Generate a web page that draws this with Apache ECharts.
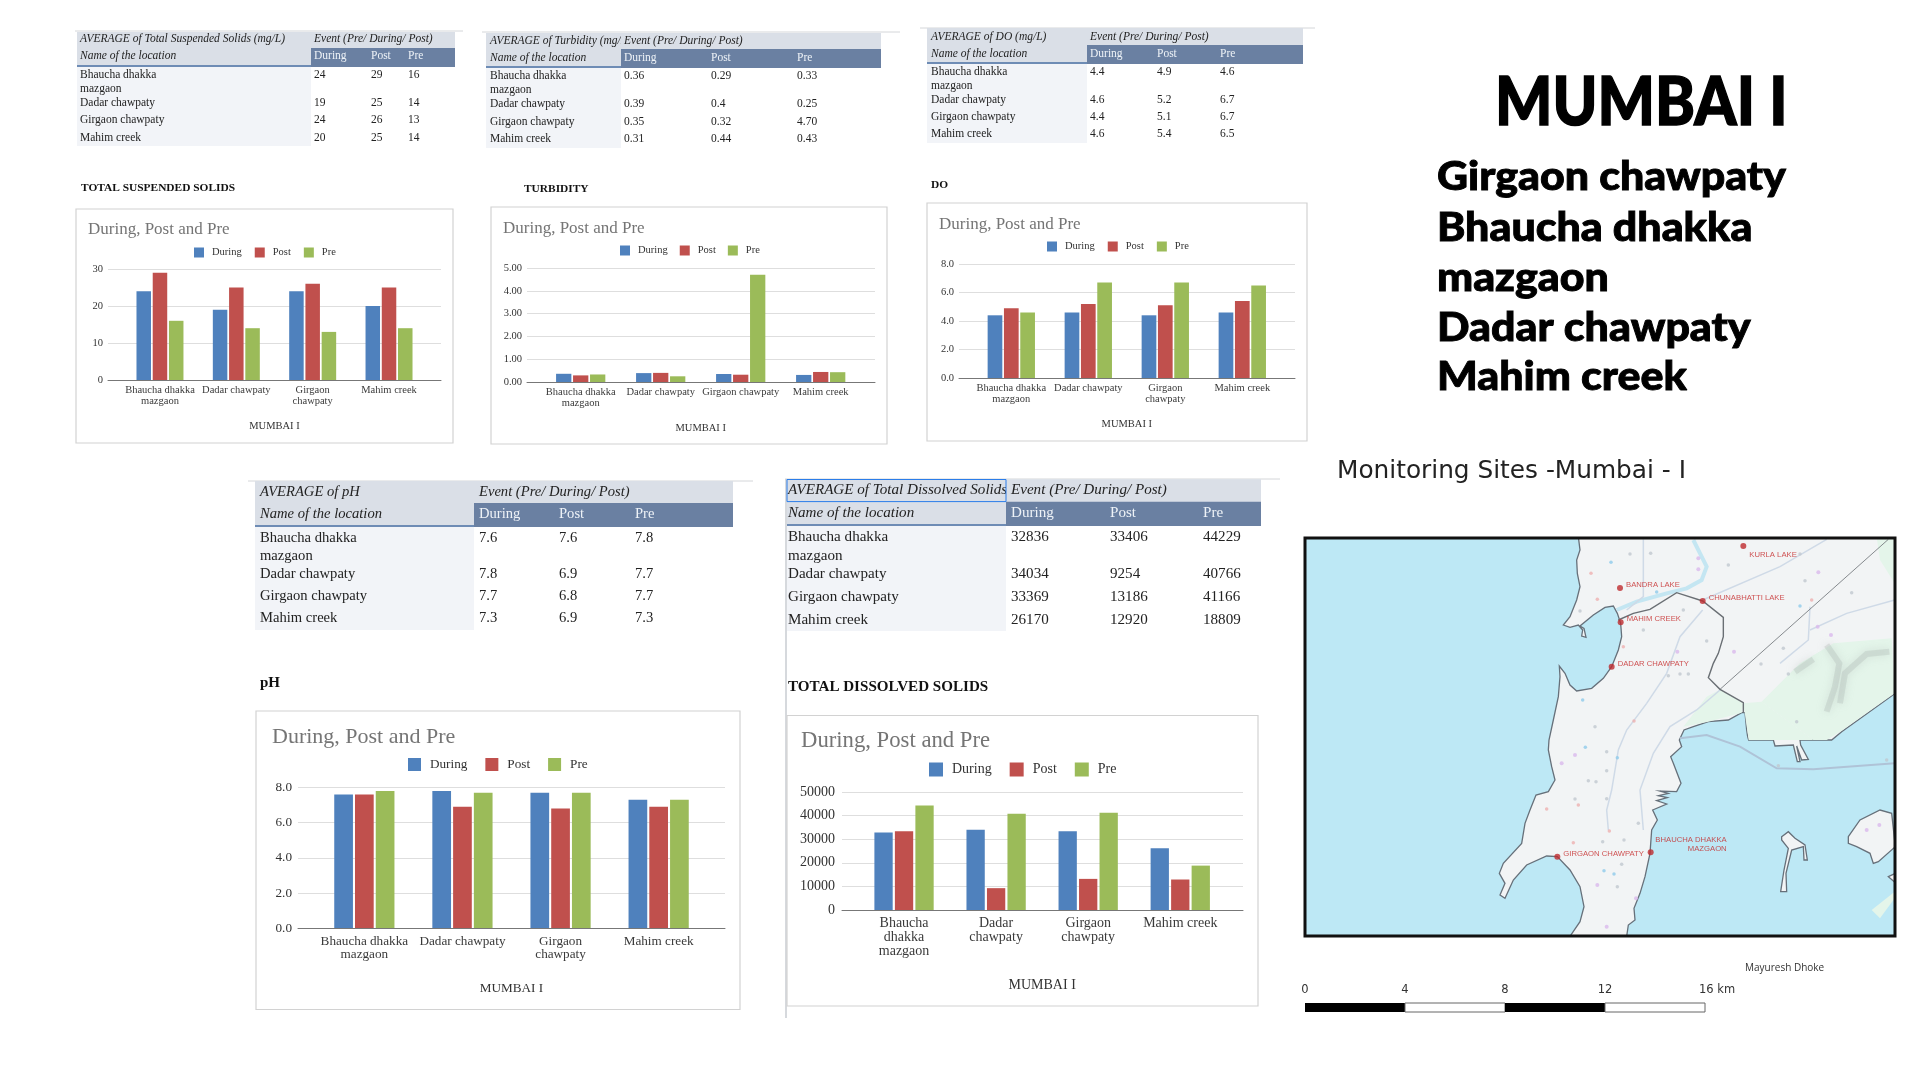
<!DOCTYPE html>
<html><head><meta charset="utf-8">
<style>html,body{margin:0;padding:0;background:#fff}#c{width:1920px;height:1080px}</style>
<script src="https://cdn.jsdelivr.net/npm/echarts@6/dist/echarts.min.js"></script>
</head><body><div id="c"></div>
<script>
// ---------- chart data ----------
const seriesNames = ['During','Post','Pre'];
const locations = ['Bhaucha dhakka mazgaon','Dadar chawpaty','Girgaon chawpaty','Mahim creek'];
const tssDuring = [24,19,24,20], tssPost = [29,25,26,25], tssPre = [16,14,13,14];
const turbDuring = [0.36,0.39,0.35,0.31], turbPost = [0.29,0.4,0.32,0.44], turbPre = [0.33,0.25,4.7,0.43];
const doDuring = [4.4,4.6,4.4,4.6], doPost = [4.9,5.2,5.1,5.4], doPre = [4.6,6.7,6.7,6.5];
const phDuring = [7.6,7.8,7.7,7.3], phPost = [7.6,6.9,6.8,6.9], phPre = [7.8,7.7,7.7,7.3];
const tdsDuring = [32836,34034,33369,26170], tdsPost = [33406,9254,13186,12920], tdsPre = [44229,40766,41166,18809];
// tick labels as wrapped in each chart
const tssTicks = ['Bhaucha dhakka\nmazgaon','Dadar chawpaty','Girgaon\nchawpaty','Mahim creek'];
const turbTicks = ['Bhaucha dhakka\nmazgaon','Dadar chawpaty','Girgaon chawpaty','Mahim creek'];
const doTicks = ['Bhaucha dhakka\nmazgaon','Dadar chawpaty','Girgaon\nchawpaty','Mahim creek'];
const phTicks = ['Bhaucha dhakka\nmazgaon','Dadar chawpaty','Girgaon\nchawpaty','Mahim creek'];
const tdsTicks = ['Bhaucha\ndhakka\nmazgaon','Dadar\nchawpaty','Girgaon\nchawpaty','Mahim creek'];
// map: site positions and outlines, in map units
const siteNames = ['KURLA LAKE','BANDRA LAKE','CHUNABHATTI LAKE','MAHIM CREEK','DADAR CHAWPATY','GIRGAON CHAWPATY','BHAUCHA DHAKKA\nMAZGAON'];
const siteX = [790,420,668,422,395,232,512];
const siteY = [48,174,213,277,410,980,967];
const landMain = [[295,20],[300,60],[290,90],[292,130],[300,170],[290,210],[270,260],[250,285],[270,292],[295,285],[308,300],[305,318],[318,322],[312,295],[300,288],[340,255],[375,232],[400,228],[412,250],[422,280],[425,320],[415,360],[395,410],[370,445],[335,475],[290,483],[270,465],[255,430],[238,408],[240,440],[235,500],[220,570],[207,630],[205,660],[215,710],[225,750],[205,785],[168,795],[150,840],[135,880],[125,940],[70,1000],[58,1030],[75,1060],[60,1095],[75,1105],[100,1050],[140,1005],[200,978],[232,980],[270,1020],[300,1070],[312,1130],[300,1175],[270,1219],[440,1219],[445,1185],[465,1170],[462,1135],[480,1090],[495,1040],[510,970],[515,900],[532,870],[518,840],[560,822],[530,812],[562,803],[535,797],[565,790],[540,783],[590,785],[603,760],[580,700],[572,680],[605,650],[598,630],[612,600],[640,590],[685,575],[745,570],[785,548],[795,548],[800,600],[803,620],[806,630],[880,630],[885,648],[940,645],[952,695],[960,695],[950,648],[965,690],[985,688],[962,645],[960,630],[1055,630],[1085,605],[1246,490],[1246,20]];
const islandButcher = [[905,920],[925,905],[945,925],[975,945],[982,990],[972,990],[970,950],[935,960],[918,1030],[920,1085],[902,1085],[912,1020],[925,955],[905,930]];
const islandElephanta = [[1105,920],[1140,870],[1200,840],[1235,850],[1246,950],[1195,995],[1180,1000],[1170,970],[1130,950],[1105,940]];
const islandEast = [[1225,1040],[1246,1030],[1246,1058]];
const greenZones = [
 [[610,590],[680,500],[722,478],[790,520],[785,548],[685,575]],
 [[790,520],[845,515],[1000,630],[806,630]],
 [[845,515],[960,400],[1060,340],[1235,325],[1244,490],[1085,602],[1040,630],[1000,630]],
 [[1190,22],[1244,22],[1244,160],[1200,90]],
 [[1175,1140],[1244,1085],[1244,1105],[1200,1165]]
];
const hillShade = [
 [[1040,345],[1078,400],[1065,470],[1040,545]],
 [[1228,365],[1160,372],[1095,430],[1080,520]],
 [[1000,388],[945,425]]
];
const rivers = [[[410,240],[470,215],[560,190],[620,175],[665,150],[680,110],[660,70],[640,30]]];
const roads = [
 [[490,28],[490,200],[440,240]],
 [[668,240],[600,320],[560,430],[500,520],[440,600],[415,660],[395,780],[380,840],[385,900]],
 [[720,480],[650,540],[570,590],[520,670],[480,780],[490,900]],
 [[668,210],[900,110],[1040,28]],
 [[990,230],[985,330],[900,400]],
 [[1244,210],[1100,250],[990,300]]
];
const harbourLink = [[600,625],[680,615],[780,650],[890,715],[1000,718],[1244,700]];
const districtLine = [[415,270],[460,250],[510,238],[590,188],[668,213],[730,262],[730,320],[715,370],[700,400],[685,443],[720,478],[790,518],[790,548]];
const thinLine = [[720,478],[1225,28]];
const greyPois = [[300,243],[512,70],[450,72],[745,105],[960,72],[975,152],[1115,188],[610,240],[490,300],[680,333],[910,355],[600,432],[625,432],[565,437],[843,402],[925,432],[950,575],[345,590],[380,665],[380,722],[325,752],[348,755],[285,807],[380,806],[475,880],[432,930],[368,935],[425,1003],[412,1070],[1220,690],[895,707]];
const pinkPois = [[285,675],[245,700],[655,85],[655,118],[1015,127],[1013,290],[1053,315],[468,1105],[352,1065],[380,1190],[1160,900],[1198,885],[762,365],[592,365]];
const redPois = [[352,208],[333,130],[430,350],[462,573],[200,837],[295,825],[388,903],[280,938],[995,210]];
const bluePois = [[393,97],[530,186],[308,510],[316,652],[412,683],[372,1022],[402,1032],[960,228]];
// table titles
const tssTitle='AVERAGE of Total Suspended Solids (mg/L)', turbTitle='AVERAGE of Turbidity (mg/L)', doTitle='AVERAGE of DO (mg/L)', phTitle='AVERAGE of pH', tdsTitle='AVERAGE of Total Dissolved Solids';
const eventHeader='Event (Pre/ During/ Post)', nameHeader='Name of the location', chartTitle='During, Post and Pre', regionName='MUMBAI I';
const sideTitle='MUMBAI I', sideList=['Girgaon chawpaty','Bhaucha dhakka','mazgaon','Dadar chawpaty','Mahim creek'];
const mapTitle='Monitoring Sites -Mumbai - I', mapAuthor='Mayuresh Dhoke', scaleTicks=['0','4','8','12','16 km'];

const SERIF='"Liberation Serif"';
const COLORS=['#4F81BD','#C0504D','#9BBB59'];

const charts=[
 {vals:[tssDuring,tssPost,tssPre],ticks:tssTicks,max:30,step:10,dec:0,F:[108,441,269,380],B:[121.8,427.2],bar:14.5,gap:'12%',
  box:[76,209,377,234],title:[88,230,17],legend:[194,247,10,8,13,10.5],lab:10.5,lh:11,lm:5,ym:5,nameGap:46,
  section:['TOTAL SUSPENDED SOLIDS',81,188,11.4],
  table:{t:tssTitle,fmt:v=>String(v),x0:77,x1:455,cx:311,top:32,b0:48,b1:67,bot:146,tx:80,cols:[314,371,408],ys:[39,56,75,89,103,120,138],f:11.5,line:[75,463,31],ex:314}},
 {vals:[turbDuring,turbPost,turbPre],ticks:turbTicks,max:5,step:1,dec:2,F:[527,875,268,382],B:[540.7,860.7],bar:15.3,gap:'11%',
  box:[491,207,396,237],title:[503,229,17],legend:[620,245,10,8,12,10.5],lab:10.5,lh:11,lm:5,ym:5,nameGap:46,
  section:['TURBIDITY',524,189,11.4],
  table:{t:turbTitle,fmt:v=>v===4.7?'4.70':String(v),x0:486,x1:881,cx:621,top:33,b0:49,b1:68,bot:148,tx:490,cols:[624,711,797],ys:[41,58,76,90,104,122,139],f:11.5,line:[482,900,32],ex:624}},
 {vals:[doDuring,doPost,doPre],ticks:doTicks,max:8,step:2,dec:1,F:[959,1295,264,378],B:[972.8,1280.8],bar:14.7,gap:'11%',
  box:[927,203,380,238],title:[939,225,17],legend:[1047,241,10,8,13,10.5],lab:10.5,lh:11,lm:5,ym:5,nameGap:46,
  section:['DO',931,185,11.4],
  table:{t:doTitle,fmt:v=>v.toFixed(1),x0:927,x1:1303,cx:1087,top:28,b0:45,b1:64,bot:143,tx:931,cols:[1090,1157,1220],ys:[37,54,72,86,100,117,134],f:11.5,line:[920,1315,28],ex:1090}},
 {vals:[phDuring,phPost,phPre],ticks:phTicks,max:8,step:2,dec:1,F:[298,725,787.4,928.4],B:[315.3,707.7],bar:18.7,gap:'11%',
  box:[256,711,484,298.5],title:[272,737,22],legend:[408,758,13,9,18,13.2],lab:13.2,lh:13.7,lm:6,ym:6,nameGap:60,
  section:['pH',260,683,15],
  table:{t:phTitle,fmt:v=>v.toFixed(1),x0:255,x1:733,cx:474,top:481,b0:503,b1:527,bot:630,tx:260,cols:[479,559,635],ys:[492,514.5,538,556,574,596,618],f:14.6,line:[248,753,481],ex:479}},
 {vals:[tdsDuring,tdsPost,tdsPre],ticks:tdsTicks,max:50000,step:10000,dec:0,F:[842,1243,792,910],B:[858,1226.3],bar:18.3,gap:'12%',
  box:[787,715.5,471,290.5],title:[801,741.5,22.7],legend:[929,762.5,14,9,18,14],lab:14,lh:14,lm:6,ym:7,nameGap:75,
  section:['TOTAL DISSOLVED SOLIDS',788,687,15.1],
  table:{t:tdsTitle,fmt:v=>String(v),x0:787,x1:1261,cx:1006,top:479.5,b0:501.6,b1:526,bot:631,tx:788,cols:[1011,1110,1203],ys:[490,513,537,556,574.5,597,620],f:15.1,line:[785,1280,479],ex:1011,selected:true}}
];

const g=[];
function rect(x,y,w,h,fill,stroke,lw,z){g.push({type:'rect',shape:{x,y,width:w,height:h},style:{fill:fill||'none',stroke:stroke||'none',lineWidth:lw||0},z:z||0,silent:true});}
function line(x1,y1,x2,y2,stroke,lw,z){g.push({type:'line',shape:{x1,y1,x2,y2},style:{stroke,lineWidth:lw||1},z:z||0,silent:true});}
function txt(s,x,y,font,fill,align,z,extra){g.push(Object.assign({type:'text',x,y,style:Object.assign({text:s,font,fill:fill||'#222',textAlign:align||'left',textVerticalAlign:'middle'},(extra&&extra.style)||{}),z:z||1,silent:true},extra&&extra.el||{}));}

const grid=[],xAxis=[],yAxis=[],series=[],legend=[];
charts.forEach((c)=>{
  // ---- table ----
  const T=c.table,f=T.f;
  line(T.line[0],T.line[2],T.line[1],T.line[2],'#D4D6D9',1);
  rect(T.x0,T.top,T.x1-T.x0,T.b1-T.top,'#DADFE7');
  txt(T.t,T.tx,T.ys[0],`italic ${f}px ${SERIF}`,'#222');
  rect(T.cx,T.top,T.x1-T.cx,T.b0-T.top,'#DADFE7',null,0,1);
  rect(T.x0,T.b1,T.cx-T.x0,T.bot-T.b1,'#F2F4F8');
  rect(T.x0,T.b1-2,T.cx-T.x0,2,'#6E8CB5');
  rect(T.cx,T.b0,T.x1-T.cx,T.b1-T.b0,'#6A80A2');
  txt(eventHeader,T.ex,T.ys[0],`italic ${f}px ${SERIF}`,'#222','left',2);
  txt(nameHeader,T.tx,T.ys[1],`italic ${f}px ${SERIF}`,'#222');
  seriesNames.forEach((n,i)=>txt(n,T.cols[i],T.ys[1],`${f}px ${SERIF}`,'#EEF2F7'));
  const rowY=[T.ys[2],T.ys[4],T.ys[5],T.ys[6]];
  txt('Bhaucha dhakka',T.tx,T.ys[2],`${f}px ${SERIF}`);
  txt('mazgaon',T.tx,T.ys[3],`${f}px ${SERIF}`);
  locations.slice(1).forEach((n,i)=>txt(n,T.tx,rowY[i+1],`${f}px ${SERIF}`));
  c.vals.forEach((arr,k)=>arr.forEach((v,i)=>txt(T.fmt(v),T.cols[k],rowY[i],`${f}px ${SERIF}`)));
  if(T.selected){rect(T.x0,T.top,T.cx-T.x0,T.b0-T.top,null,'#2B7DE9',1,3);
    line(786,479,786,1018,'#C9CDD2',1.5);}
  // ---- section title + chart box ----
  txt(c.section[0],c.section[1],c.section[2],`bold ${c.section[3]}px ${SERIF}`,'#111');
  rect(c.box[0],c.box[1],c.box[2],c.box[3],'#fff','#D2D2D2',1.2,0);
  txt(chartTitle,c.title[0],c.title[1],`${c.title[2]}px ${SERIF}`,'#757575');
  // ---- frame grid: gridlines, y labels, baseline ----
  const idx=grid.length;
  grid.push({left:c.F[0],width:c.F[1]-c.F[0],top:c.F[2],height:c.F[3]-c.F[2],containLabel:false});
  xAxis.push({gridIndex:idx,type:'value',min:0,max:1,axisLabel:{show:false},axisTick:{show:false},splitLine:{show:false},
    axisLine:{show:true,onZero:false,lineStyle:{color:'#777',width:1}},z:3});
  yAxis.push({gridIndex:idx,type:'value',min:0,max:c.max,interval:c.step,axisLine:{show:false},axisTick:{show:false},
    splitLine:{show:true,lineStyle:{color:'#DEDEDE',width:1}},
    axisLabel:{margin:c.ym,color:'#333',fontFamily:'Liberation Serif',fontSize:c.lab,formatter:v=>c.dec?v.toFixed(c.dec):String(v)}});
  // ---- bar grid: categories and bars ----
  const b=grid.length;
  grid.push({left:c.B[0],width:c.B[1]-c.B[0],top:c.F[2],height:c.F[3]-c.F[2],containLabel:false});
  xAxis.push({gridIndex:b,type:'category',data:c.ticks,axisLine:{show:false},axisTick:{show:false},
    name:regionName,nameLocation:'middle',nameGap:c.nameGap,nameMoveOverlap:false,
    nameTextStyle:{color:'#333',fontFamily:'Liberation Serif',fontSize:c.lab,verticalAlign:'middle'},
    axisLabel:{interval:0,hideOverlap:false,margin:c.lm,color:'#3A3A3A',fontFamily:'Liberation Serif',fontSize:c.lab,lineHeight:c.lh}});
  yAxis.push({gridIndex:b,type:'value',min:0,max:c.max,show:false});
  seriesNames.forEach((n,k)=>series.push({type:'bar',name:n,xAxisIndex:b,yAxisIndex:b,data:c.vals[k],barWidth:c.bar,barGap:c.gap,
    itemStyle:{color:COLORS[k]},z:2}));
  legend.push({data:seriesNames,left:c.legend[0],top:c.legend[1],icon:'rect',itemWidth:c.legend[2],itemHeight:c.legend[2],itemGap:c.legend[4],
    selectedMode:false,padding:0,textStyle:{color:'#333',fontFamily:'Liberation Serif',fontSize:c.legend[5],padding:[0,0,0,c.legend[3]-5]}});
});

// ---------- right hand column ----------
txt(sideTitle,1495,104,'900 66px Lato','#000','left',1,{el:{scaleX:.915},style:{stroke:'#000',lineWidth:1.4}});
const sideY=[177,228,278,328,377];
sideList.forEach((s,i)=>txt(s,1437,sideY[i],'900 40px Lato','#000','left',1,{el:{scaleX:1.072},style:{stroke:'#000',lineWidth:.9}}));
txt(mapTitle,1337,472,'24.8px "DejaVu Sans"','#222');
// ---------- map frame + scale ----------
rect(1305,538,590,398,null,'#111',3,20);
txt(mapAuthor,1745,968,'10px "Open Sans"','#333');
const sx=[1305,1405,1505,1605,1705];
rect(1305,1003,100,9,'#000');rect(1405,1003,100,9,'#fff','#666',1);rect(1505,1003,100,9,'#000');rect(1605,1003,100,9,'#fff','#666',1);
scaleTicks.forEach((s,i)=>{txt(s,i===4?1699:sx[i],990,'11.5px "DejaVu Sans"','#333',i===4?'left':'center');});

// ---------- map layers on a hidden cartesian grid ----------
const mapG=grid.length;
grid.push({left:1305,width:590,top:537,height:399,show:true,backgroundColor:'#BDE8F5',borderWidth:0,z:0});
xAxis.push({gridIndex:mapG,type:'value',min:-525,max:1245,show:false});
yAxis.push({gridIndex:mapG,type:'value',min:21,max:1218,inverse:true,show:false});
function layer(items,kind,style,z){
  series.push({type:'custom',xAxisIndex:mapG,yAxisIndex:mapG,z,silent:true,clip:true,data:items.map((_,i)=>[i]),encode:{x:[],y:[]},
    renderItem:(p,api)=>({type:kind,shape:{points:items[api.value(0)].map(q=>api.coord(q))},style})});
}
layer([landMain,islandButcher,islandElephanta,islandEast],'polygon',{fill:'#F2F4F5',stroke:'#66707A',lineWidth:1.3},1);
layer(greenZones,'polygon',{fill:'#E4F5EA'},2);
layer(hillShade,'polyline',{stroke:'#A7B0AB',lineWidth:6,fill:'none',opacity:.28,shadowBlur:8,shadowColor:'#A7B0AB'},3);
layer(rivers,'polyline',{stroke:'#C4E6F2',lineWidth:4,fill:'none'},3);
layer(roads,'polyline',{stroke:'#CFDAE7',lineWidth:1.5,fill:'none'},3);
layer([harbourLink],'polyline',{stroke:'#AFC3D7',lineWidth:2,fill:'none'},3);
layer([districtLine],'polyline',{stroke:'#6A6F74',lineWidth:1.4,fill:'none'},4);
layer([thinLine],'polyline',{stroke:'#6A6F74',lineWidth:.8,fill:'none'},4);
function pois(arr,color,size){series.push({type:'scatter',xAxisIndex:mapG,yAxisIndex:mapG,z:4,silent:true,symbolSize:size,itemStyle:{color},data:arr});}
pois(greyPois,'#C1C8CF',3.5);pois(pinkPois,'#D9B9EC',4);pois(redPois,'#EDB0B0',3.5);pois(bluePois,'#8FCBEB',3.5);
const siteLabelPos=[[6,9,'left'],[6,-3,'left'],[6,-3,'left'],[6,-3,'left'],[6,-3,'left'],[6,-3,'left'],[76,-8,'right']];
series.push({type:'scatter',xAxisIndex:mapG,yAxisIndex:mapG,z:6,silent:true,symbolSize:6,itemStyle:{color:'#BE2A2E'},
  data:siteNames.map((n,i)=>({name:n,value:[siteX[i],siteY[i]],label:{show:true,formatter:n,position:[siteLabelPos[i][0]+3,siteLabelPos[i][1]+3],align:siteLabelPos[i][2],verticalAlign:'middle',
    color:'#C62828',fontFamily:'Liberation Sans',fontSize:7.7,lineHeight:8.5}}))});

const chart=echarts.init(document.getElementById('c'),null,{renderer:'canvas'});
chart.setOption({animation:false,backgroundColor:'#fff',tooltip:{show:false},grid,xAxis,yAxis,legend,series,graphic:{elements:g}});
</script></body></html>
